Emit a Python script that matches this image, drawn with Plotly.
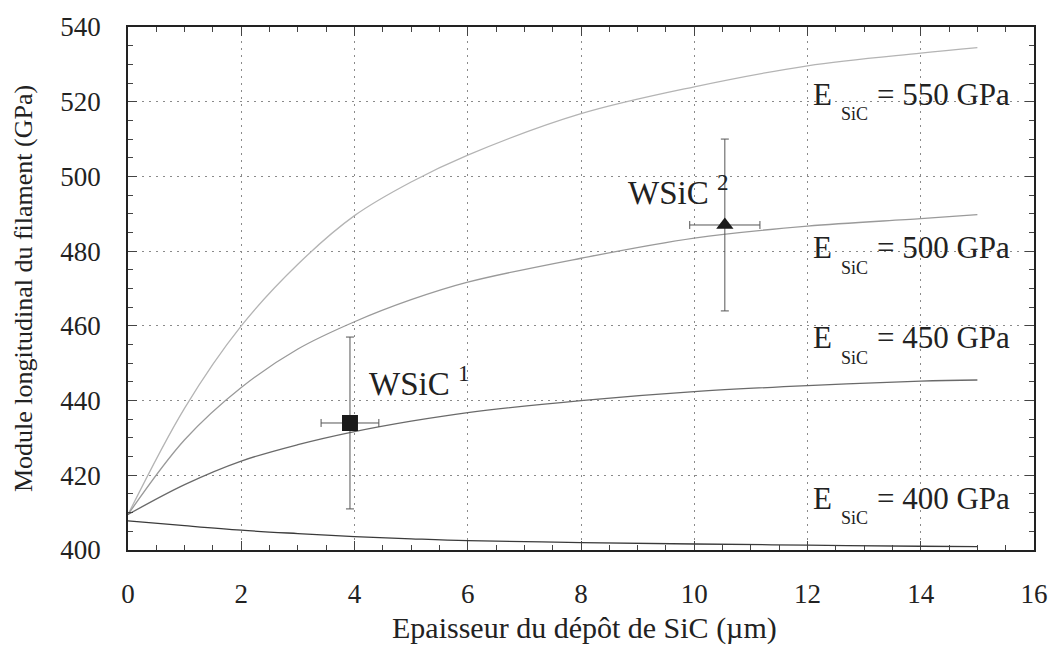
import plotly.graph_objects as go

# Epaisseur du depot (um) and longitudinal modulus (GPa) for each E_SiC
epaisseur = [0, 1, 2, 3, 4, 5, 6, 8, 10, 12, 14, 15]
module_550 = [409.5, 438, 460, 476.5, 489.5, 498.5, 505.7, 516.8, 524, 529.6, 533, 534.5]
module_500 = [409.5, 429.5, 443.5, 453.8, 461.1, 467, 471.7, 478.1, 483.5, 486.7, 488.7, 489.8]
module_450 = [409.5, 417.5, 423.8, 428.2, 431.7, 434.5, 436.8, 440, 442.4, 444, 445.2, 445.5]
module_400 = [407.8, 406.5, 405.3, 404.4, 403.6, 403, 402.5, 402, 401.6, 401.3, 401, 400.9]

curve_labels = ["550", "500", "450", "400"]
label_y = [522, 481, 456.8, 413.9]

# measured filaments
wsic_names = ["WSiC", "WSiC"]
wsic_sup = ["1", "2"]
wsic_x = [3.92, 10.54]
wsic_y = [434.0, 487.0]
wsic_ex = [0.51, 0.62]
wsic_ey = [23, 23]

FONT = "Liberation Serif"
TXT = "#222"

fig = go.Figure()

colors = ["#b4b4b4", "#9a9a9a", "#6a6a6a", "#3a3a3a"]
for vals, col in zip([module_550, module_500, module_450, module_400], colors):
    fig.add_trace(go.Scatter(
        x=epaisseur, y=vals, mode="lines", line_shape="spline",
        line=dict(color=col, width=1.3), showlegend=False,
    ))

symbols = ["square", "triangle-up"]
sizes = [16, 15]
for i in range(2):
    fig.add_trace(go.Scatter(
        x=[wsic_x[i]], y=[wsic_y[i]], mode="markers",
        marker=dict(symbol=symbols[i], size=sizes[i], color="#1a1a1a"),
        error_x=dict(type="constant", value=wsic_ex[i], color="#555", thickness=1, width=4),
        error_y=dict(type="constant", value=wsic_ey[i], color="#555", thickness=1, width=4),
        showlegend=False,
    ))

# curve labels on the right: "E", a low "SiC" subscript, then "= xxx GPa"
for lab, ly in zip(curve_labels, label_y):
    fig.add_annotation(
        x=12.06, y=ly, xref="x", yref="y", xanchor="left", yanchor="middle",
        text="E", showarrow=False, font=dict(family=FONT, size=31, color=TXT),
    )
    fig.add_annotation(
        x=12.55, y=ly - 5.4, xref="x", yref="y", xanchor="left", yanchor="middle",
        text="SiC", showarrow=False, font=dict(family=FONT, size=18, color=TXT),
    )
    fig.add_annotation(
        x=13.2, y=ly, xref="x", yref="y", xanchor="left", yanchor="middle",
        text="= " + lab + " GPa", showarrow=False, font=dict(family=FONT, size=31, color=TXT),
    )

label_pos = [(4.22, 445.3), (8.8, 496.4)]
for (lx, ly), name, sup in zip(label_pos, wsic_names, wsic_sup):
    fig.add_annotation(
        x=lx, y=ly, xref="x", yref="y", xanchor="left", yanchor="middle",
        text=name + " <sup>" + sup + "</sup>", showarrow=False,
        font=dict(family=FONT, size=33, color=TXT),
    )

# x axis title placed by hand, close under the tick labels
fig.add_annotation(
    x=0.504, y=-0.15, xref="paper", yref="paper", xanchor="center", yanchor="middle",
    text="Epaisseur du dépôt de SiC (µm)", showarrow=False,
    font=dict(family=FONT, size=30, color=TXT),
)

axis_common = dict(
    showline=True, linecolor="#222", linewidth=1.5, mirror="ticks",
    ticks="inside", ticklen=9, tickcolor="#444",
    showgrid=True, gridcolor="#8a8a8a", griddash="2px,5px", gridwidth=1,
    zeroline=False, ticklabeloverflow="allow",
    tickfont=dict(family=FONT, size=27, color=TXT),
)

fig.update_xaxes(
    range=[0, 16], dtick=2, tick0=0,
    minor=dict(dtick=0.5, ticks="inside", ticklen=5, tickcolor="#444", showgrid=False),
    ticklabelstandoff=19,
    **axis_common,
)
fig.update_yaxes(
    range=[400, 540], dtick=20, tick0=400,
    minor=dict(dtick=5, ticks="inside", ticklen=5, tickcolor="#444", showgrid=False),
    title=dict(text="Module longitudinal du filament (GPa)", font=dict(family=FONT, size=26, color=TXT), standoff=20),
    ticklabelstandoff=20,
    **axis_common,
)

fig.update_layout(
    width=1060, height=645,
    margin=dict(l=128, r=23, t=22, b=95),
    plot_bgcolor="white", paper_bgcolor="white",
)

# drop the default 8px body margin so the figure fills the window
fig.write_html("out.html", config={"displayModeBar": False},
               post_script="document.body.style.margin='0';")
